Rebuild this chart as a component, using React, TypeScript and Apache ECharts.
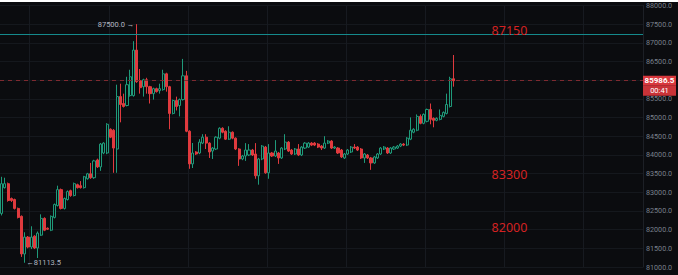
import React, { useEffect, useRef } from "react";
import * as echarts from "echarts";

const opens = [82435,83124,83230,82832,82806,82568,82356,81350,81800,81535,81826,81508,81852,82302,82038,81985,82328,82647,83071,82568,82806,83044,82912,83204,83177,83124,83362,83495,83390,83866,83680,84052,84052,84687,84661,84158,85562,85376,85323,85588,85588,86807,85986,85827,86012,85827,85641,85774,85721,85747,86171,85827,85111,85456,85323,85482,86118,84634,83760,84078,84052,84316,84475,84316,84104,84158,84449,84714,84634,84422,84608,84449,84158,83892,83972,83998,84131,84025,83442,83892,84210,83522,84052,83972,84052,83919,84158,84343,84131,84025,84158,83998,84184,84210,84316,84316,84290,84237,84184,84316,84370,84184,84184,84131,83919,84025,84078,84210,84210,84158,83919,83998,83919,83786,83919,84025,84158,84184,84052,84158,84184,84237,84290,84264,84422,84608,84661,85032,84846,84900,85217,84979,84926,84952,85032,85111,85297,86039];
const closes = [83230,83230,82780,82780,82568,82328,81350,81800,81535,81800,81508,81906,82302,81985,82012,82356,82674,83071,82568,82832,83018,82912,83230,83124,83124,83416,83495,83390,83840,83680,84290,84316,84820,84475,84184,85562,85350,85297,85880,86092,86807,85960,85800,86012,85827,85641,85774,85694,85774,86171,85827,85111,85456,85297,85482,86118,84634,83760,84052,84025,84343,84475,84316,84078,84184,84475,84714,84608,84422,84608,84449,84158,83892,83972,84131,84131,83998,83442,83892,84237,83522,84052,83972,84104,83919,84184,84343,84104,84025,84158,83998,84210,84316,84316,84264,84264,84210,84184,84316,84370,84184,84210,84052,83946,84025,84131,84210,84184,84131,83919,84025,83919,83786,83946,84025,84184,84210,84052,84184,84210,84237,84290,84264,84449,84661,84687,85032,84846,85085,85217,84952,84926,84979,85058,85138,85350,86039,85986.5];
const lows = [82380,83100,82750,82740,82540,82300,81270,81113.5,81500,81480,81480,81240,81830,81960,81990,81960,82300,82620,82540,82540,82780,82880,82890,83100,83100,83100,83340,83360,83360,83650,83574,84020,84020,84450,83522,83522,84873,85270,85300,85560,85560,85930,85641,85562,85641,85376,85482,85670,85641,85720,85694,84687,85085,85190,85032,85456,84608,83628,83650,84000,84020,84290,84158,83919,83892,84130,84420,84580,84400,84400,84420,84130,83707,83860,83840,83970,83970,83362,83204,83860,83495,83362,83946,83946,83760,83892,84130,84080,84000,84000,83970,83970,84158,84184,84237,84237,84184,84131,84158,84290,84158,84158,84025,83919,83892,84000,84052,84158,84104,83892,83786,83892,83601,83760,83892,84000,84131,84025,84025,84131,84158,84210,84237,84237,84396,84580,84634,84820,84820,84873,84820,84740,84900,84926,85005,85085,85270,85827];
const highs = [83415,83390,83260,82860,82830,82590,82380,81930,81830,82090,81850,81950,82410,82330,82060,82380,82700,83177,83100,82860,83050,83070,83260,83230,83300,83440,83520,83786,83870,83900,84320,84340,84850,84710,84690,85880,85907,85640,86092,86280,87045,87500,86300,86040,86065,85850,85800,85800,85907,86280,86200,85850,85480,85560,85510,86570,86250,84660,84320,84100,84422,84555,84555,84340,84210,84500,84740,84740,84660,84767,84630,84470,84180,84000,84316,84290,84160,84316,83920,84264,84240,84290,84080,84396,84080,84210,84555,84370,84160,84184,84290,84237,84343,84343,84343,84343,84316,84264,84502,84396,84396,84237,84210,84158,84052,84158,84237,84290,84237,84184,84052,84025,83946,83972,84052,84210,84237,84210,84210,84237,84264,84316,84316,84475,85005,84714,85085,85085,85111,85240,85376,85005,85005,85217,85164,85641,86092,86675];

const slotCount = 195;
const categories = Array.from({ length: slotCount }, (_, i) => String(i));

const yMin = 81000;
const yMax = 88000;
const yStep = 500;

const resistanceLine = 87230;
const currentPrice = 85986.5;
const countdown = "00:41";

const levelTexts = ["87150", "83300", "82000"];
const levelValues = [87150, 83300, 82000];
const levelOffsets = [-7, -7, -2];
const levelSlot = "154";

const BG = "#0b0c0f";
const UP = "#1f9a7a";
const DOWN = "#e03a3e";

export default function App() {
  const ref = useRef<HTMLDivElement>(null);
  useEffect(() => {
    document.body.style.margin = "0";
    const chart = echarts.init(ref.current!, undefined, { renderer: "svg" });
    const data = opens.map((o, i) => [o, closes[i], lows[i], highs[i]]);
    chart.setOption({
      animation: false,
      backgroundColor: BG,
      grid: { left: 0, right: 35, top: 1, bottom: 8 },
      xAxis: {
        type: "category",
        data: categories,
        boundaryGap: true,
        axisLine: { show: false },
        axisTick: { show: false },
        axisLabel: { show: false },
        splitLine: {
          show: true,
          interval: (index: number) => index >= 9 && (index - 9) % 24 === 0,
          lineStyle: { color: "#171a20", width: 1 },
        },
      },
      yAxis: {
        type: "value",
        position: "right",
        min: yMin,
        max: yMax,
        interval: yStep,
        axisLine: { show: true, lineStyle: { color: "#1d2026" } },
        axisTick: { show: false },
        axisLabel: {
          color: "#7a808c",
          fontSize: 7.2,
          fontFamily: "Roboto",
          margin: 3,
          formatter: (v: number) =>
            Math.abs(v - currentPrice) < yStep / 2 ? "" : v.toFixed(1),
        },
        splitLine: { show: true, lineStyle: { color: "#15181d", width: 1 } },
      },
      series: [
        {
          type: "candlestick",
          data,
          barWidth: 2.6,
          itemStyle: {
            color: BG,
            color0: DOWN,
            borderColor: UP,
            borderColor0: DOWN,
            borderWidth: 1,
          },
          markLine: {
            symbol: ["none", "none"],
            silent: true,
            animation: false,
            data: [
              {
                yAxis: resistanceLine,
                lineStyle: { color: "#158a8c", type: "solid", width: 1 },
                label: { show: false },
              },
              {
                yAxis: currentPrice,
                lineStyle: { color: "#7e2a30", type: [4, 4], width: 1 },
                label: {
                  show: true,
                  position: "end",
                  distance: 0,
                  formatter:
                    "{e| }\n{a|" + currentPrice.toFixed(1) + "}\n{b|" + countdown + "}",
                  rich: {
                    e: { height: 10, lineHeight: 10, fontSize: 8 },
                    a: {
                      backgroundColor: "#d8383d",
                      color: "#ffffff",
                      width: 33,
                      height: 10,
                      lineHeight: 10,
                      align: "center",
                      fontSize: 8,
                      fontFamily: "Roboto",
                      fontWeight: "bold",
                    },
                    b: {
                      backgroundColor: "#c93338",
                      color: "#ffffff",
                      width: 33,
                      height: 10,
                      lineHeight: 10,
                      align: "center",
                      fontSize: 7.5,
                      fontFamily: "Roboto",
                    },
                  },
                },
              },
            ],
          },
          markPoint: {
            silent: true,
            animation: false,
            data: [
              {
                type: "max",
                valueDim: "highest",
                symbol: "circle",
                symbolSize: 1,
                itemStyle: { color: "transparent" },
                label: {
                  show: true,
                  position: "left",
                  distance: 2,
                  color: "#b4b8c0",
                  fontSize: 7.5,
                  fontFamily: "Roboto",
                  formatter: (p: any) => Number(p.value).toFixed(1) + " →",
                },
              },
              {
                type: "min",
                valueDim: "lowest",
                symbol: "circle",
                symbolSize: 1,
                itemStyle: { color: "transparent" },
                label: {
                  show: true,
                  position: "right",
                  distance: 1,
                  color: "#b4b8c0",
                  fontSize: 7.5,
                  fontFamily: "Roboto",
                  formatter: (p: any) => "←" + Number(p.value).toFixed(1),
                },
              },
              ...levelTexts.map((t, i) => ({
                coord: [levelSlot, levelValues[i]],
                symbol: "circle",
                symbolSize: 1,
                itemStyle: { color: "transparent" },
                label: {
                  show: true,
                  position: "inside",
                  offset: [0, levelOffsets[i]],
                  color: "#d42222",
                  fontSize: 12.5,
                  fontFamily: "Noto Sans",
                  formatter: t,
                },
              })),
            ],
          },
        },
      ],
    });
    return () => chart.dispose();
  }, []);
  return (
    <div
      ref={ref}
      style={{ position: "absolute", top: 2, left: 0, width: 678, height: 273 }}
    />
  );
}
